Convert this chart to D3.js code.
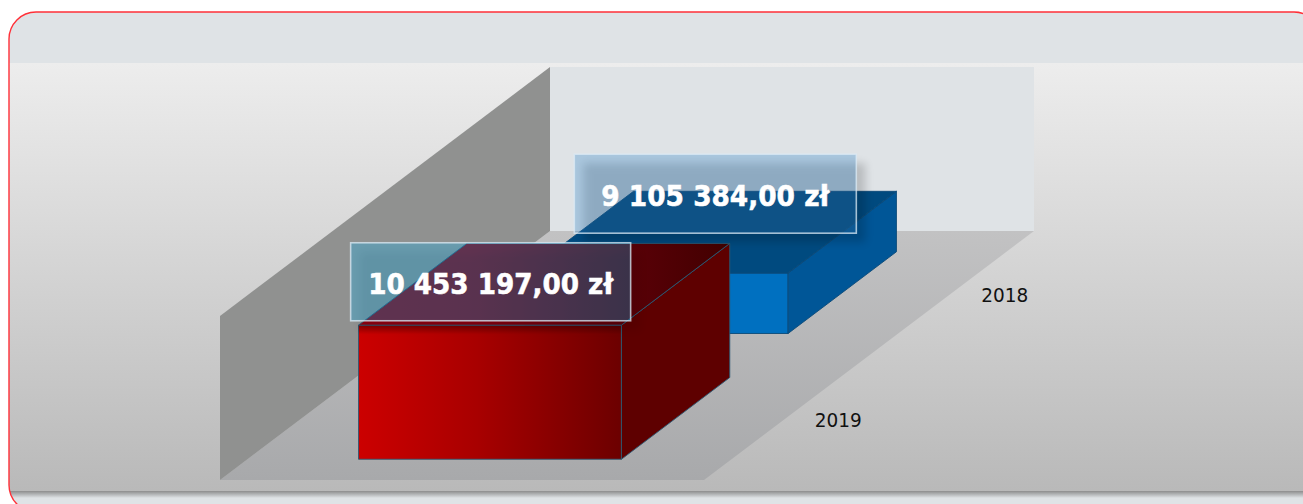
<!DOCTYPE html>
<html>
<head>
<meta charset="utf-8">
<script src="https://cdn.jsdelivr.net/npm/d3@7"></script>
<style>
  html, body { margin: 0; padding: 0; background: #fff; overflow: hidden; }
  svg { display: block; }
  text { font-family: "DejaVu Sans", sans-serif; font-stretch: condensed; }
</style>
</head>
<body>
<div id="chart"></div>
<script>
// data, back to front order is handled when drawing
const years = ['2019', '2018'];
const values = [10453197, 9105384];
const axisDomain = [8000000, 11000000];
const seriesNames = ['Sprzedaz'];

/* -------------------------------------------------------------------------- */
const W = 1303, H = 504;

// floor of the 3d box: front left corner, width, and the depth vector
const floor = {x: 220, y: 480, w: 484, dx: 330, dy: 249};
const wallH = 164;

const xScale = d3.scaleBand().domain(seriesNames).range([0.001, 1.001]).padding(0.296);
const depthScale = d3.scaleBand().domain(years).range([0, 1]).paddingInner(0.35).paddingOuter(0.165);
const hScale = d3.scaleLinear().domain(axisDomain).range([0, wallH]);

const fmt = d3.formatLocale({decimal: ',', thousands: ' ', grouping: [3], currency: ['', ' zł']}).format('$,.2f');

// u: 0..1 along the floor width, t: 0..1 along depth, h: pixels up
function project(u, t, h) {
  return [floor.x + u * floor.w + t * floor.dx, floor.y - t * floor.dy - h];
}
const poly = d3.line();

const svg = d3.select('#chart').append('svg').attr('width', W).attr('height', H);
const defs = svg.append('defs');

function gradient(id, x2, y2, stops) {
  const g = defs.append('linearGradient').attr('id', id)
    .attr('x1', 0).attr('y1', 0).attr('x2', x2).attr('y2', y2);
  stops.forEach(s => g.append('stop').attr('offset', s[0]).attr('stop-color', s[1]).attr('stop-opacity', s[2] === undefined ? 1 : s[2]));
}
gradient('panelGrad', 0, 1, [[0, '#ededed'], [1, '#b9b9b9']]);
gradient('floorGrad', 0, 1, [[0, '#c2c2c3'], [1, '#a8a9ab']]);
gradient('shadowGrad', 0, 1, [[0, '#8d8d8d'], [0.35, '#a9abac'], [1, '#dfe3e6']]);
gradient('redFront', 1, 0, [[0, '#cc0000'], [0.45, '#a80000'], [1, '#6c0000']]);
gradient('redFrontTop', 0, 1, [[0, '#300000', 0.45], [1, '#300000', 0]]);
gradient('redTop', 1, 0, [[0, '#900010'], [0.3, '#880010'], [0.7, '#5c0008'], [1, '#420000']]);

defs.append('filter').attr('id', 'blur').attr('x', '-20%').attr('y', '-30%').attr('width', '140%').attr('height', '160%')
  .append('feGaussianBlur').attr('stdDeviation', 4);

defs.append('clipPath').attr('id', 'panelClip')
  .append('rect').attr('x', 9).attr('y', 12).attr('width', 1312).attr('height', 500).attr('rx', 27);

/* -------------------------------------------------------------------------- */
// panel
const panel = svg.append('g').attr('clip-path', 'url(#panelClip)');
panel.append('rect').attr('x', 9).attr('y', 12).attr('width', 1312).attr('height', 51).attr('fill', '#dfe3e6');
panel.append('rect').attr('x', 9).attr('y', 63).attr('width', 1312).attr('height', 428).attr('fill', 'url(#panelGrad)');
panel.append('rect').attr('x', 9).attr('y', 491).attr('width', 1312).attr('height', 7).attr('fill', 'url(#shadowGrad)');
panel.append('rect').attr('x', 9).attr('y', 498).attr('width', 1312).attr('height', 14).attr('fill', '#dfe3e6');
svg.append('rect').attr('x', 9).attr('y', 12).attr('width', 1312).attr('height', 500).attr('rx', 27)
  .attr('fill', 'none').attr('stroke', '#ff3038').attr('stroke-width', 1.4);

/* -------------------------------------------------------------------------- */
// box: floor and walls
const plot = svg.append('g');
plot.append('path').attr('fill', 'url(#floorGrad)')
  .attr('d', poly([project(0, 0, 0), project(1, 0, 0), project(1, 1, 0), project(0, 1, 0)]) + 'Z');
plot.append('path').attr('fill', '#dfe3e6')
  .attr('d', poly([project(0, 1, 0), project(1, 1, 0), project(1, 1, wallH), project(0, 1, wallH)]) + 'Z');
plot.append('path').attr('fill', '#909190')
  .attr('d', poly([project(0, 0, 0), project(0, 1, 0), project(0, 1, wallH), project(0, 0, wallH)]) + 'Z');

/* -------------------------------------------------------------------------- */
// bars, drawn back to front
const barStyles = {
  '2019': {front: 'url(#redFront)', top: 'url(#redTop)', side: '#5e0000', line: '#2d5a74', shade: 'url(#redFrontTop)'},
  '2018': {front: '#0070c0', top: '#004a7f', side: '#005697', line: '#0b4a78', shade: null}
};
const rows = years.map((y, i) => ({year: y, value: values[i]})).reverse();
const u0 = xScale(seriesNames[0]), u1 = u0 + xScale.bandwidth();

rows.forEach(d => {
  const s = barStyles[d.year];
  const t0 = depthScale(d.year), t1 = t0 + depthScale.bandwidth();
  const h = hScale(d.value);
  const g = plot.append('g').attr('stroke', s.line).attr('stroke-width', 0.9).attr('stroke-linejoin', 'round');

  g.append('path').attr('fill', s.front)
    .attr('d', poly([project(u0, t0, 0), project(u1, t0, 0), project(u1, t0, h), project(u0, t0, h)]) + 'Z');
  if (s.shade) {
    const p = project(u0, t0, h), q = project(u1, t0, h);
    g.append('rect').attr('x', p[0]).attr('y', p[1]).attr('width', q[0] - p[0]).attr('height', 9)
      .attr('fill', s.shade).attr('stroke', 'none');
  }
  g.append('path').attr('fill', s.side)
    .attr('d', poly([project(u1, t0, 0), project(u1, t1, 0), project(u1, t1, h), project(u1, t0, h)]) + 'Z');
  g.append('path').attr('fill', s.top)
    .attr('d', poly([project(u0, t0, h), project(u1, t0, h), project(u1, t1, h), project(u0, t1, h)]) + 'Z');
});

/* -------------------------------------------------------------------------- */
// category labels sit off the right floor edge
svg.append('g').selectAll('text').data(years).join('text')
  .attr('x', d => project(1, depthScale(d) + depthScale.bandwidth() / 2, 0)[0] + 29)
  .attr('y', d => project(1, depthScale(d) + depthScale.bandwidth() / 2, 0)[1] + 9)
  .attr('font-size', 20).attr('fill', '#111')
  .attr('textLength', 47).attr('lengthAdjust', 'spacingAndGlyphs')
  .text(d => d);

/* -------------------------------------------------------------------------- */
// value labels, moved by hand in the original so offsets are per bar
const labelPos = {
  '2019': {dx: -53.5, dy: -2.5, w: 280, h: 78, textW: 245, fill: 'rgb(0,185,255)', alpha: 0.27, shadow: 0.08},
  '2018': {dx: 4.5, dy: -38.5, w: 282, h: 79, textW: 228, fill: 'rgb(47,132,202)', alpha: 0.3, shadow: 0.17}
};

years.slice().reverse().forEach(y => {
  const v = values[years.indexOf(y)];
  const lp = labelPos[y];
  const t0 = depthScale(y), t1 = t0 + depthScale.bandwidth();
  const c = project((u0 + u1) / 2, (t0 + t1) / 2, hScale(v));
  const cx = c[0] + lp.dx, cy = c[1] + lp.dy;
  const g = svg.append('g');

  g.append('rect').attr('x', cx - lp.w / 2 + 9).attr('y', cy - lp.h / 2 + 9)
    .attr('width', lp.w).attr('height', lp.h)
    .attr('fill', '#000').attr('opacity', lp.shadow).attr('filter', 'url(#blur)');
  g.append('rect').attr('x', cx - lp.w / 2).attr('y', cy - lp.h / 2)
    .attr('width', lp.w).attr('height', lp.h)
    .attr('fill', lp.fill).attr('fill-opacity', lp.alpha)
    .attr('stroke', '#dcebf5').attr('stroke-opacity', 0.75).attr('stroke-width', 1.6);
  g.append('text').attr('x', cx).attr('y', cy + 12)
    .attr('text-anchor', 'middle').attr('font-size', 29).attr('font-weight', 'bold')
    .attr('fill', '#fff').attr('stroke', '#fff').attr('stroke-width', 0.5)
    .attr('textLength', lp.textW).attr('lengthAdjust', 'spacingAndGlyphs')
    .text(fmt(v));
});
</script>
</body>
</html>
